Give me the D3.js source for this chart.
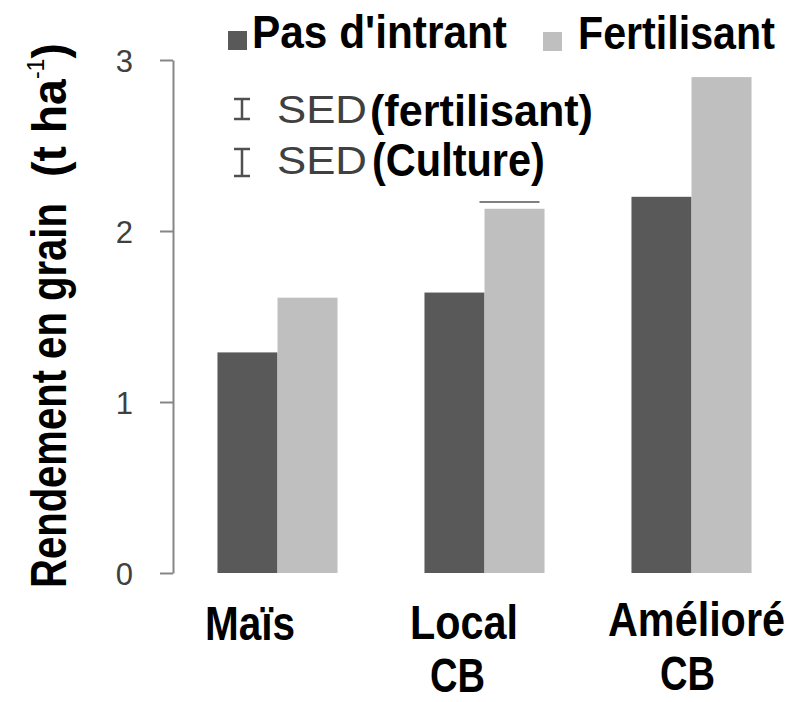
<!DOCTYPE html>
<html>
<head>
<meta charset="utf-8">
<script src="https://cdn.jsdelivr.net/npm/d3@7"></script>
<style>
  body { margin: 0; background: #fff; }
  svg { display: block; font-family: "Liberation Sans", Arial, sans-serif; }
</style>
</head>
<body>
<div id="chart"></div>
<script>
var categories = ["Maïs", "Local CB", "Amélioré CB"];
var categoryLines = [["Maïs"], ["Local", "CB"], ["Amélioré", "CB"]];
var seriesNames = ["Pas d'intrant", "Fertilisant"];
var noInput = [1.29, 1.64, 2.2];
var fertilizer = [1.61, 2.13, 2.9];
var yTicks = [0, 1, 2, 3];
var sedLabels = ["(fertilisant)", "(Culture)"];
var sedMark = { category: "Local CB", value: 2.17 };

var colors = ["#595959", "#bfbfbf"];
var width = 794, height = 702;

var svg = d3.select("#chart").append("svg")
  .attr("width", width)
  .attr("height", height);

// put a text at (x,y) and squeeze it horizontally to a target width
function fitText(parent, x, y, len, rotate) {
  var g = parent.append("g");
  var t = g.append("text");
  t.fit = function() {
    var w = t.node().getComputedTextLength();
    g.attr("transform", "translate(" + x + "," + y + ")" + (rotate ? " rotate(-90)" : "") +
      " scale(" + (len / w) + ",1)");
    return t;
  };
  return t;
}

var y = d3.scaleLinear().domain([0, 3]).range([573, 60]);
var x0 = d3.scaleBand().domain(categories).range([174, 795])
  .paddingInner(0.42).paddingOuter(0.21);
var x1 = d3.scaleBand().domain(seriesNames).range([0, x0.bandwidth()]);

// y axis
var yAxis = svg.append("g")
  .attr("transform", "translate(173,0)")
  .call(d3.axisLeft(y).tickValues(yTicks).tickFormat(d3.format("d"))
    .tickSize(13).tickSizeOuter(0).tickPadding(27));
yAxis.select(".domain").attr("stroke", "#868686").attr("stroke-width", 2);
yAxis.selectAll(".tick line").attr("stroke", "#868686").attr("stroke-width", 2);
yAxis.selectAll(".tick text")
  .attr("font-size", 31)
  .attr("fill", "#404040")
  .attr("dy", "0.36em");

// bars
var rows = categories.map(function(c, i) {
  return { cat: c, vals: [noInput[i], fertilizer[i]] };
});
var groups = svg.selectAll("g.grp").data(rows).enter().append("g")
  .attr("class", "grp")
  .attr("transform", function(d) { return "translate(" + x0(d.cat) + ",0)"; });
groups.selectAll("rect")
  .data(function(d) { return d.vals.map(function(v, j) { return { s: seriesNames[j], v: v, j: j }; }); })
  .enter().append("rect")
  .attr("x", function(d) { return x1(d.s); })
  .attr("width", x1.bandwidth())
  .attr("y", function(d) { return y(d.v); })
  .attr("height", function(d) { return y(0) - y(d.v); })
  .attr("fill", function(d) { return colors[d.j]; });

// SED mark above Local CB
svg.append("line")
  .attr("x1", x0(sedMark.category) + x1(seriesNames[1]) - 5)
  .attr("x2", x0(sedMark.category) + x1(seriesNames[1]) + x1.bandwidth() - 5)
  .attr("y1", y(sedMark.value))
  .attr("y2", y(sedMark.value))
  .attr("stroke", "#808080")
  .attr("stroke-width", 2);

// legend
var legend = [
  { sq: 228, sqy: 31, tx: 252, ty: 48, len: 255 },
  { sq: 543, sqy: 32, tx: 578, ty: 49, len: 197 }
];
legend.forEach(function(l, i) {
  svg.append("rect").attr("x", l.sq).attr("y", l.sqy)
    .attr("width", 19).attr("height", 19).attr("fill", colors[i]);
  fitText(svg, l.tx, l.ty, l.len)
    .attr("font-size", 46).attr("font-weight", "bold").attr("fill", "#000")
    .text(seriesNames[i]).fit();
});

// SED legend rows
var sedRows = [
  { top: 98, bot: 120, base: 123, lbase: 126, lx: 370, len: 223, fs: 44 },
  { top: 148, bot: 177, base: 174, lbase: 176, lx: 372, len: 173, fs: 46 }
];
sedRows.forEach(function(r, i) {
  var g = svg.append("g").attr("stroke", "#505050").attr("stroke-width", 2.5).attr("fill", "none");
  g.append("line").attr("x1", 242).attr("x2", 242).attr("y1", r.top).attr("y2", r.bot);
  g.append("line").attr("x1", 234).attr("x2", 250).attr("y1", r.top + 1).attr("y2", r.top + 1);
  g.append("line").attr("x1", 234).attr("x2", 250).attr("y1", r.bot - 1).attr("y2", r.bot - 1);
  fitText(svg, 277, r.base, 90)
    .attr("font-size", 38).attr("fill", "#404040")
    .text("SED").fit();
  fitText(svg, r.lx, r.lbase, r.len)
    .attr("font-size", r.fs).attr("font-weight", "bold").attr("fill", "#000")
    .text(sedLabels[i]).fit();
});

// y title
fitText(svg, 66, 588, 385, true)
  .attr("font-size", 50).attr("font-weight", "bold").attr("fill", "#000")
  .text("Rendement en grain").fit();
var unit = fitText(svg, 66, 177, 134, true)
  .attr("font-size", 48).attr("font-weight", "bold").attr("fill", "#000");
unit.append("tspan").text("(t ha");
unit.append("tspan").attr("font-size", 24).attr("font-weight", "normal").attr("dy", -22).text("-1");
unit.append("tspan").attr("dy", 22).text(")");
unit.fit();

// x labels
var xLabelPos = [
  [{ x: 205, y: 640, len: 90 }],
  [{ x: 410, y: 639, len: 108 }, { x: 430, y: 692, len: 55 }],
  [{ x: 608, y: 636, len: 177 }, { x: 660, y: 690, len: 55 }]
];
categoryLines.forEach(function(lines, i) {
  lines.forEach(function(t, k) {
    var p = xLabelPos[i][k];
    fitText(svg, p.x, p.y, p.len)
      .attr("font-size", 48).attr("font-weight", "bold").attr("fill", "#000")
      .text(t).fit();
  });
});
</script>
</body>
</html>
